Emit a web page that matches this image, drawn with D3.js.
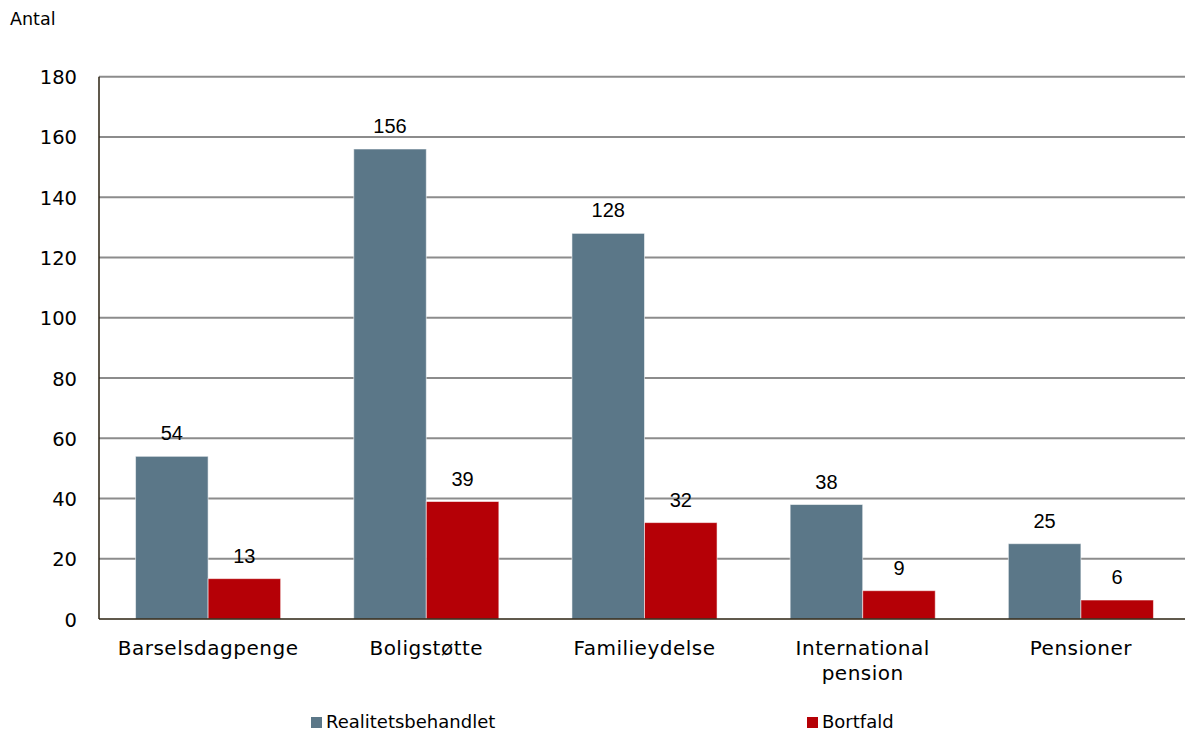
<!DOCTYPE html>
<html>
<head>
<meta charset="utf-8">
<script src="https://cdn.jsdelivr.net/npm/d3@7"></script>
<style>
html,body{margin:0;padding:0;background:#fff;}
svg{display:block;}
</style>
</head>
<body>
<svg id="chart" width="1185" height="731"></svg>
<script>
const categories = ["Barselsdagpenge", "Boligstøtte", "Familieydelse", "International pension", "Pensioner"];
const categoryLines = [["Barselsdagpenge"], ["Boligstøtte"], ["Familieydelse"], ["International", "pension"], ["Pensioner"]];
const seriesNames = ["Realitetsbehandlet", "Bortfald"];
const realitetsbehandlet = [54, 156, 128, 38, 25];
const bortfald = [13.4, 39, 32, 9.4, 6.3];
const yTicks = [0, 20, 40, 60, 80, 100, 120, 140, 160, 180];
const yLabel = "Antal";

const colors = {"Realitetsbehandlet": "#5b7788", "Bortfald": "#b50006"};
const seriesValues = {"Realitetsbehandlet": realitetsbehandlet, "Bortfald": bortfald};

const svg = d3.select("#chart");
const plotLeft = 99, plotRight = 1190, plotTop = 76.7, plotBottom = 619;

const x0 = d3.scaleBand().domain(categories).range([plotLeft, plotRight]).paddingInner(0.335).paddingOuter(0.1675);
const x1 = d3.scaleBand().domain(seriesNames).range([0, x0.bandwidth()]);
const y = d3.scaleLinear().domain([0, 180]).range([plotBottom, plotTop]);

// gridlines
svg.append("g").selectAll("line").data(yTicks.filter(d => d > 0)).join("line")
  .attr("x1", plotLeft).attr("x2", 1185)
  .attr("y1", d => y(d)).attr("y2", d => y(d))
  .attr("stroke", "#8c8c8c").attr("stroke-width", 2);

// y tick labels
const yAxis = d3.axisLeft(y).tickValues(yTicks).tickSize(0).tickPadding(0).tickFormat(d3.format("d"));
const ya = svg.append("g").attr("transform", `translate(${plotLeft - 22},0)`).call(yAxis);
ya.select(".domain").remove();
ya.selectAll("text").attr("font-family", "DejaVu Sans").attr("font-size", 19.5).attr("fill", "#000").attr("dy", "0.36em");

// bars
const groups = svg.append("g").selectAll("g").data(categories).join("g")
  .attr("transform", d => `translate(${x0(d)},0)`);

groups.selectAll("rect").data((c, i) => seriesNames.map(s => ({s, v: seriesValues[s][i]}))).join("rect")
  .attr("x", d => x1(d.s))
  .attr("y", d => y(d.v))
  .attr("width", x1.bandwidth())
  .attr("height", d => y(0) - y(d.v))
  .attr("fill", d => colors[d.s])
  .attr("stroke", "rgba(255,255,255,0.55)").attr("stroke-width", 1);

groups.selectAll("text.val").data((c, i) => seriesNames.map(s => ({s, v: seriesValues[s][i]}))).join("text")
  .attr("class", "val")
  .attr("x", d => x1(d.s) + x1.bandwidth() / 2)
  .attr("y", d => y(d.v) - 16)
  .attr("text-anchor", "middle")
  .attr("font-family", "Liberation Sans, Arial, sans-serif").attr("font-size", 20)
  .attr("fill", "#000")
  .text(d => d3.format(".0f")(d.v));

// axes lines
svg.append("line").attr("x1", plotLeft).attr("x2", 1185).attr("y1", y(0)).attr("y2", y(0))
  .attr("stroke", "#2b2210").attr("stroke-width", 1.5);
svg.append("line").attr("x1", plotLeft).attr("x2", plotLeft).attr("y1", plotTop).attr("y2", y(0))
  .attr("stroke", "#2b2210").attr("stroke-width", 1.5);

// category labels
categories.forEach((c, i) => {
  const t = svg.append("text")
    .attr("x", x0(c) + x0.bandwidth() / 2)
    .attr("y", 655)
    .attr("text-anchor", "middle")
    .attr("font-family", "DejaVu Sans").attr("font-size", 20)
    .attr("letter-spacing", 0.5)
    .attr("fill", "#000");
  categoryLines[i].forEach((ln, j) => {
    t.append("tspan").attr("x", x0(c) + x0.bandwidth() / 2).attr("dy", j === 0 ? 0 : 25).text(ln);
  });
});

// y label
svg.append("text").attr("x", 10).attr("y", 24.5)
  .attr("font-family", "DejaVu Sans").attr("font-size", 17.5).attr("fill", "#000").text(yLabel);

// legend
const legendX = [311, 807];
seriesNames.forEach((s, i) => {
  svg.append("rect").attr("x", legendX[i]).attr("y", 717).attr("width", 11).attr("height", 11)
    .attr("fill", colors[s]);
  svg.append("text").attr("x", legendX[i] + 15).attr("y", 728)
    .attr("font-family", "DejaVu Sans").attr("font-size", 18)
    .attr("fill", "#000").text(s);
});
</script>
</body>
</html>
